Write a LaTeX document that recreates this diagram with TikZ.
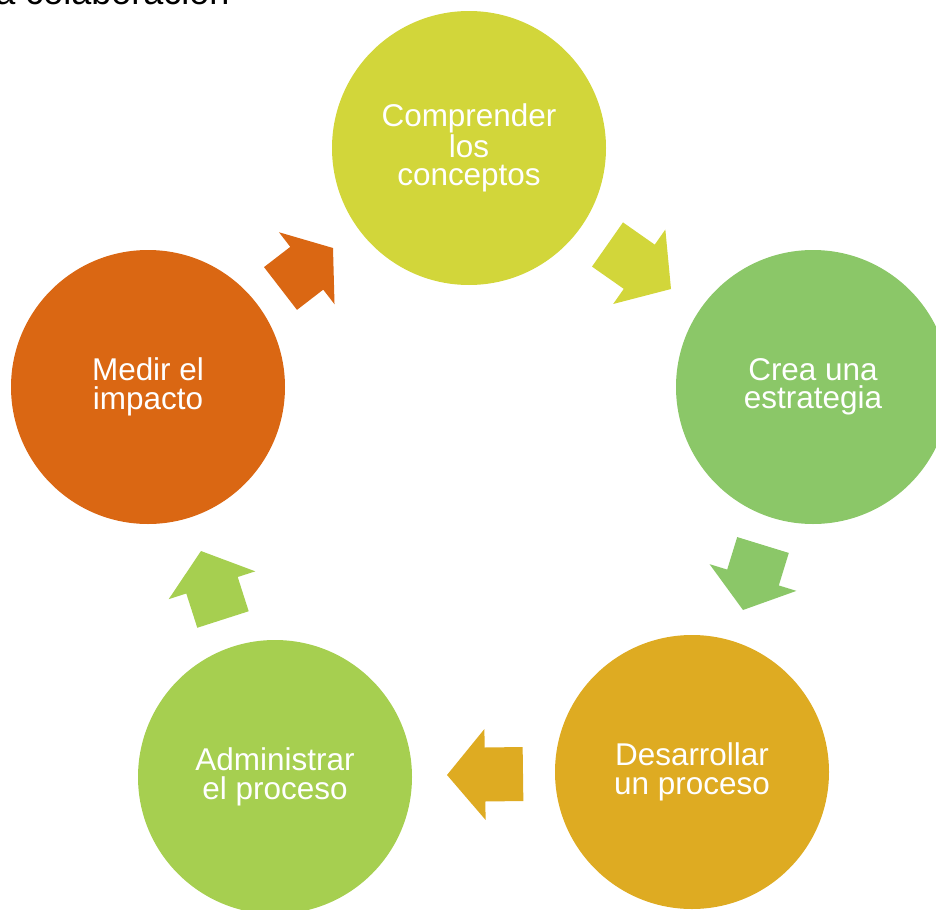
\documentclass[tikz,border=0pt]{standalone}
\usepackage{fontspec}
\setmainfont{Liberation Sans}
\usetikzlibrary{calc}
\definecolor{cA}{RGB}{210,214,58}
\definecolor{cB}{RGB}{139,199,104}
\definecolor{cC}{RGB}{222,171,34}
\definecolor{cD}{RGB}{166,207,80}
\definecolor{cE}{RGB}{218,103,19}
\tikzset{
  circ/.style={circle, minimum size=205.5pt, inner sep=0pt, text=white, align=center,
    font=\fontsize{23.6pt}{21.4pt}\selectfont},
  blockarrow/.style={fill=#1, draw=none}
}
\newcommand\cyclearrow[3]{%
  \fill[blockarrow=#3]
    ($(#1)!20.25pt!90:(#2)$) --
    ($($(#1)!0.5!(#2)$)!20.25pt!90:(#2)$) --
    ($($(#1)!0.5!(#2)$)!34.1pt!90:(#2)$) --
    (#2) --
    ($($(#1)!0.5!(#2)$)!34.1pt!-90:(#2)$) --
    ($($(#1)!0.5!(#2)$)!20.25pt!-90:(#2)$) --
    ($(#1)!20.25pt!-90:(#2)$) -- cycle;
}
\begin{document}
\begin{tikzpicture}[x=0.75pt, y=-0.75pt]
\useasboundingbox (0,0) rectangle (936,910);
\clip (0,0) rectangle (936,910);
\node[anchor=base west, inner sep=0pt, font=\fontsize{27pt}{30pt}\selectfont] (title) at (-5,5) {a colaboración};
\node[circ, fill=cA] (n1) at (469,148) {Comprender\\los\\conceptos};
\node[circ, fill=cB] (n2) at (813,387) {Crea una\\estrategia};
\node[circ, fill=cC] (n3) at (692,772) {Desarrollar\\un proceso};
\node[circ, fill=cD] (n4) at (275,777) {Administrar\\el proceso};
\node[circ, fill=cE] (n5) at (148,387) {Medir el\\impacto};
\coordinate (a1t) at (607.5,244.5); \coordinate (a1p) at (671,289);
\coordinate (a2t) at (763,545);     \coordinate (a2p) at (743,610);
\coordinate (a3t) at (523,774);     \coordinate (a3p) at (447,775);
\coordinate (a4t) at (223,619.5);   \coordinate (a4p) at (201,551);
\coordinate (a5t) at (280.5,288.5); \coordinate (a5p) at (333,248);
\cyclearrow{a1t}{a1p}{cA}
\cyclearrow{a2t}{a2p}{cB}
\cyclearrow{a3t}{a3p}{cC}
\cyclearrow{a4t}{a4p}{cD}
\cyclearrow{a5t}{a5p}{cE}
\end{tikzpicture}
\end{document}
